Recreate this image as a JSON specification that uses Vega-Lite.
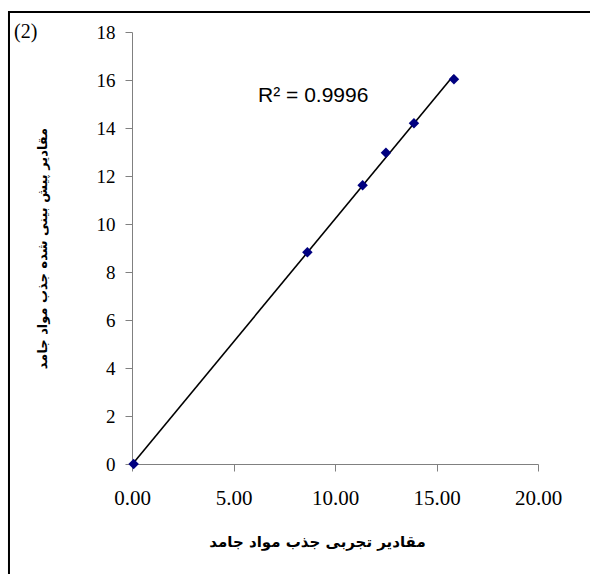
{
  "$schema": "https://vega.github.io/schema/vega-lite/v6.json",
  "width": 406,
  "height": 432,
  "autosize": {"type": "none"},
  "padding": {"left": 132, "top": 32, "right": 52, "bottom": 110},
  "background": "white",
  "config": {"view": {"stroke": null}},
  "data": {
    "values": [
      {"x": 0.08, "y": 0.0},
      {"x": 8.64, "y": 8.82},
      {"x": 11.36, "y": 11.61},
      {"x": 12.51, "y": 12.97},
      {"x": 13.89, "y": 14.2},
      {"x": 15.86, "y": 16.03}
    ]
  },
  "layer": [
    {
      "data": {"values": [{}]},
      "mark": {"type": "rect", "fill": "transparent", "stroke": "black", "strokeWidth": 2, "clip": false},
      "encoding": {
        "x": {"datum": -6.06, "type": "quantitative", "scale": {"domain": [0, 20]}},
        "x2": {"datum": 30},
        "y": {"datum": 18.83, "type": "quantitative", "scale": {"domain": [0, 18]}},
        "y2": {"datum": -10}
      }
    },
    {
      "transform": [{"regression": "y", "on": "x"}],
      "mark": {"type": "line", "color": "black", "strokeWidth": 1.6},
      "encoding": {
        "x": {"field": "x", "type": "quantitative"},
        "y": {"field": "y", "type": "quantitative"}
      }
    },
    {
      "mark": {"type": "point", "shape": "diamond", "filled": true, "size": 110, "color": "#000080", "opacity": 1},
      "encoding": {
        "x": {
          "field": "x",
          "type": "quantitative",
          "scale": {"domain": [0, 20], "nice": false, "zero": false},
          "axis": {
            "title": "مقادیر تجربی جذب مواد جامد",
            "values": [0, 5, 10, 15, 20],
            "format": ".2f",
            "grid": false,
            "domainColor": "#808080",
            "tickColor": "#808080",
            "tickSize": 7,
            "labelFont": "Liberation Serif",
            "labelFontSize": 21,
            "labelColor": "black",
            "labelPadding": 16,
            "labelFlush": false,
            "labelOverlap": false,
            "titleFont": "DejaVu Sans",
            "titleFontWeight": "bold",
            "titleFontSize": 15,
            "titleColor": "black",
            "titleX": 185,
            "titleY": 77,
            "titleAlign": "center",
            "titleBaseline": "middle"
          }
        },
        "y": {
          "field": "y",
          "type": "quantitative",
          "scale": {"domain": [0, 18], "nice": false, "zero": false},
          "axis": {
            "title": "مقادیر پیش بینی شده جذب مواد جامد",
            "values": [0, 2, 4, 6, 8, 10, 12, 14, 16, 18],
            "grid": false,
            "domainColor": "#808080",
            "tickColor": "#808080",
            "tickSize": 7,
            "labelFont": "Liberation Serif",
            "labelFontSize": 19,
            "labelColor": "black",
            "labelPadding": 10,
            "labelFlush": false,
            "labelOverlap": false,
            "titleFont": "DejaVu Sans",
            "titleFontWeight": "bold",
            "titleFontSize": 13,
            "titleColor": "black",
            "titleX": -90,
            "titleY": 216,
            "titleAngle": -90,
            "titleAlign": "center",
            "titleBaseline": "middle"
          }
        }
      }
    },
    {
      "data": {"values": [{}]},
      "mark": {"type": "text", "text": "R² = 0.9996", "align": "left", "baseline": "alphabetic", "font": "Liberation Sans", "fontSize": 21, "fontWeight": "normal", "fill": "black"},
      "encoding": {
        "x": {"datum": 6.21, "type": "quantitative"},
        "y": {"datum": 15.08, "type": "quantitative"}
      }
    },
    {
      "data": {"values": [{}]},
      "mark": {"type": "text", "text": "(2)", "align": "left", "baseline": "alphabetic", "font": "Liberation Serif", "fontSize": 20, "fontWeight": "normal", "fill": "black", "clip": false},
      "encoding": {
        "x": {"datum": -5.81, "type": "quantitative"},
        "y": {"datum": 17.75, "type": "quantitative"}
      }
    }
  ]
}
